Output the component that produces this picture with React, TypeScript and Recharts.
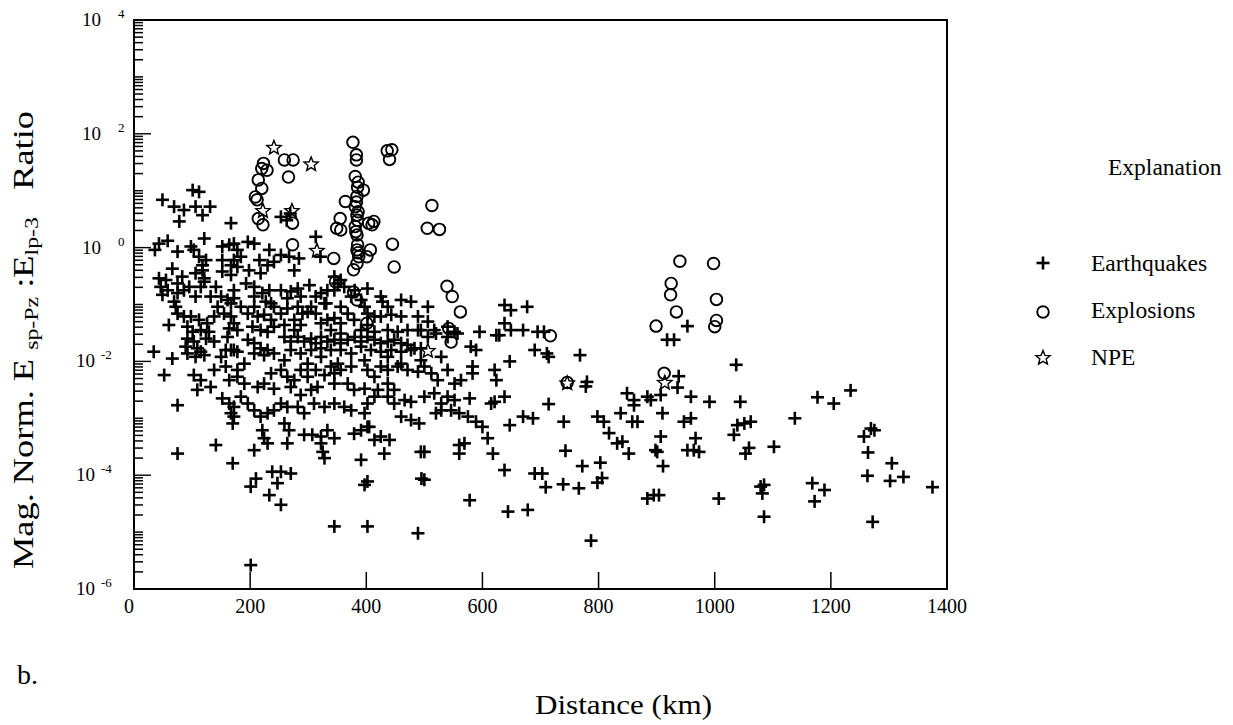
import React from 'react';
import { ScatterChart, Scatter, XAxis, YAxis, ReferenceArea } from 'recharts';

// Distance (km) and log10 of the normalized energy ratio
const earthquakes: [number, number][] = [
  [101,1.01],[112,0.98],[49,0.84],[69,0.72],[86,0.66],[106,0.72],[118,0.57],[131,0.72],[78,0.46],[167,0.43],
  [253,0.54],[269,0.60],[263,0.48],[313,0.19],[321,-0.16],
  [43,0.07],[58,0.12],[36,-0.04],[75,-0.07],[98,0.02],[103,-0.04],[121,0.16],[152,0.02],[164,0.05],[172,0.07],
  [178,-0.04],[196,0.10],[207,0.07],[233,-0.04],[253,-0.13],[267,-0.16],[284,-0.19],
  [112,-0.16],[124,-0.22],[118,-0.31],[66,-0.37],[152,-0.22],[172,-0.22],[184,-0.16],[167,-0.31],[178,-0.34],
  [152,-0.42],[167,-0.48],[216,-0.22],[230,-0.31],[241,-0.25],[198,-0.40],[218,-0.45],[106,-0.45],[118,-0.40],
  [276,-0.40],[43,-0.54],[55,-0.57],[83,-0.51],[121,-0.54],
  [46,-0.69],[58,-0.75],[49,-0.83],[75,-0.63],[75,-0.80],[86,-0.75],[95,-0.69],[106,-0.86],[115,-0.69],[121,-0.60],
  [141,-0.69],[150,-0.86],[161,-0.92],[172,-0.89],[167,-0.98],[193,-0.63],[207,-0.69],[221,-0.80],[233,-0.75],
  [253,-0.75],[270,-0.77],[282,-0.72],[264,-0.89],[302,-0.66],[313,-0.86],[331,-0.98],[227,-0.95],[236,-0.98],
  [345,-0.51],[356,-0.57],[351,-0.63],[362,-0.69],[380,-0.75],[402,-0.72],[374,-0.86],[391,-0.92],[425,-0.86],
  [428,-0.95],[477,-0.95],[69,-0.95],[72,-1.04],
  [345,-0.75],[322,-0.80],[305,-1.04],[356,-1.04],[397,-1.04],[437,-1.04],[460,-0.92],[489,-1.21],[506,-1.04],
  [494,-1.45],[356,-1.33],[322,-1.33],[276,-1.27],[241,-1.04],[207,-1.04],[184,-1.04],[144,-1.04],[132,-0.86],
  [172,-0.75],[207,-0.86],[287,-0.86],[333,-0.75],
  [75,-1.16],[86,-1.21],[98,-1.21],[112,-1.27],[126,-1.33],[138,-1.21],[60,-1.36],[92,-1.39],[101,-1.48],[115,-1.45],
  [129,-1.48],[155,-1.16],[167,-1.21],[172,-1.33],[164,-1.42],[178,-1.45],[196,-1.16],[213,-1.21],[224,-1.18],
  [236,-1.27],[204,-1.39],[218,-1.45],[230,-1.48],[241,-1.39],[253,-1.16],[264,-1.07],[282,-1.04],[290,-1.16],
  [299,-1.13],[259,-1.36],[276,-1.45],[287,-1.36],[328,-0.98],[313,-1.16],[333,-1.27],[345,-1.24],[368,-1.16],
  [379,-1.27],[402,-1.16],[414,-1.21],[425,-1.21],[443,-1.18],[460,-1.21],[339,-1.45],[356,-1.51],[391,-1.45],
  [402,-1.36],[414,-1.48],[437,-1.45],[454,-1.48],[471,-1.45],[489,-1.45],[506,-1.30],[517,-1.45],[540,-1.39],
  [552,-1.48],[595,-1.48],[624,-1.54],
  [92,-1.60],[103,-1.65],[89,-1.74],[109,-1.77],[124,-1.60],[138,-1.65],[161,-1.57],[172,-1.80],[34,-1.83],[66,-1.95],
  [92,-1.86],[106,-1.92],[115,-1.83],[121,-1.89],[158,-1.80],[167,-1.80],[178,-1.83],[196,-1.62],[207,-1.68],
  [218,-1.77],[230,-1.80],[207,-1.86],[224,-1.89],[241,-1.86],
  [259,-1.57],[270,-1.65],[282,-1.57],[293,-1.65],[305,-1.60],[313,-1.68],[322,-1.57],[333,-1.65],[345,-1.62],
  [356,-1.68],[368,-1.62],[380,-1.57],[391,-1.65],[402,-1.57],[414,-1.62],[425,-1.68],[437,-1.65],[448,-1.62],
  [460,-1.68],[471,-1.71],[483,-1.77],
  [270,-1.80],[287,-1.86],[305,-1.80],[322,-1.77],[339,-1.80],[356,-1.80],[374,-1.86],[391,-1.74],[408,-1.80],
  [425,-1.83],[443,-1.80],[460,-1.83],[477,-1.80],[494,-1.77],
  [190,-2.04],[178,-2.15],[150,-1.92],[259,-1.98],[299,-2.04],[322,-1.92],[351,-2.04],[397,-1.98],[437,-1.92],
  [460,-2.04],[494,-1.98],[529,-1.92],
  [506,-1.57],[520,-1.51],[540,-1.57],[557,-1.51],[580,-1.74],[589,-1.80],[629,-1.54],[649,-1.45],[670,-1.45],
  [638,-1.33],[638,-1.01],[649,-1.10],[677,-1.04],[690,-1.80],[647,-2.00],[695,-1.48],
  [52,-2.24],[103,-2.24],[115,-2.33],[109,-2.50],[138,-2.15],[158,-2.09],[164,-2.33],[132,-2.45],[178,-2.27],[190,-2.39],
  [236,-2.21],[253,-2.15],[264,-2.27],[276,-2.33],[287,-2.15],[299,-2.27],[313,-2.15],[328,-2.24],[339,-2.09],
  [345,-2.21],[356,-2.15],[374,-2.09],[402,-2.15],[414,-2.27],[425,-2.09],[437,-2.15],[454,-2.09],[471,-2.15],
  [489,-2.18],[500,-2.09],[512,-2.21],[523,-2.33],[540,-2.15],[552,-2.39],[563,-2.33],[583,-2.09],[583,-2.21],
  [621,-2.15],[624,-2.33],[213,-2.45],[224,-2.39],[241,-2.48],[270,-2.45],[287,-2.59],[305,-2.50],[316,-2.45],
  [345,-2.39],[368,-2.39],[379,-2.50],[397,-2.48],[420,-2.50],[437,-2.39],[448,-2.50],
  [75,-2.77],[152,-2.65],[164,-2.74],[172,-2.80],[184,-2.62],[196,-2.74],[167,-2.91],[172,-2.97],[170,-3.09],
  [207,-2.86],[218,-2.97],[230,-2.91],[241,-2.86],[253,-2.74],[264,-2.80],[282,-2.80],[293,-2.91],[310,-2.74],
  [328,-2.80],[345,-2.74],[362,-2.80],[374,-2.86],[402,-2.74],[414,-2.62],[437,-2.62],[448,-2.74],[466,-2.68],
  [477,-2.71],[500,-2.62],[517,-2.56],[529,-2.74],[540,-2.62],[552,-2.68],[578,-2.65],[615,-2.74],[621,-2.71],
  [638,-2.62],[460,-2.97],[477,-3.03],[491,-3.09],[397,-2.91],[520,-2.91],[529,-2.86],[546,-2.86],[560,-2.91],
  [575,-2.97],[589,-3.06],[600,-3.15],
  [221,-3.21],[224,-3.35],[230,-3.44],[259,-3.09],[267,-3.21],[264,-3.44],[293,-3.29],[307,-3.29],[322,-3.32],
  [333,-3.21],[345,-3.35],[322,-3.44],[325,-3.59],[328,-3.70],[379,-3.27],[391,-3.21],[402,-3.15],[414,-3.38],
  [425,-3.32],[440,-3.38],[431,-3.62],[405,-3.15],[391,-3.73],[141,-3.47],[75,-3.62],[170,-3.79],[207,-3.56],
  [494,-3.59],[500,-3.59],[560,-3.47],[569,-3.44],[560,-3.62],[609,-3.35],[618,-3.62],[638,-3.91],[690,-3.97],
  [647,-3.12],[670,-2.97],[687,-3.00],
  [238,-3.94],[253,-3.94],[270,-3.97],[210,-4.06],[201,-4.20],[247,-4.14],[233,-4.35],[253,-4.52],[402,-4.11],
  [397,-4.17],[500,-4.08],[495,-4.06],[578,-4.44],[644,-4.64],[678,-4.61],[345,-4.90],[402,-4.90],[489,-5.02],
  [201,-5.58],
  [706,-1.48],[711,-1.86],[714,-1.92],[768,-1.89],[714,-2.75],[780,-2.36],[778,-2.44],[740,-3.06],[743,-3.57],
  [798,-2.97],[809,-3.06],[818,-3.26],[838,-2.91],[841,-3.41],[852,-3.62],[832,-3.44],[849,-2.56],[861,-2.68],
  [861,-2.77],[858,-3.06],[867,-3.06],[884,-2.62],[890,-2.68],[907,-2.59],[910,-2.91],[907,-3.32],[898,-3.56],
  [901,-3.59],[911,-3.84],[884,-4.41],[895,-4.35],[904,-4.35],[930,-1.62],[918,-1.62],[953,-1.38],[938,-2.26],
  [936,-2.46],[959,-2.62],[947,-3.06],[959,-3.00],[967,-3.35],[953,-3.56],[973,-3.59],[964,-3.56],[991,-2.71],
  [1007,-4.41],[1037,-2.06],[1044,-2.71],[1039,-3.12],[1051,-3.09],[1062,-3.06],[1033,-3.29],[1059,-3.52],
  [1053,-3.62],[1102,-3.50],[1079,-4.20],[1085,-4.17],[1082,-4.32],[1085,-4.73],[1138,-3.00],[1177,-2.63],
  [1205,-2.74],[1234,-2.51],[1168,-4.14],[1189,-4.26],[1172,-4.46],[1257,-3.32],[1269,-3.18],[1275,-3.21],
  [1264,-3.60],[1263,-4.01],[1272,-4.82],[1305,-3.79],[1302,-4.10],[1325,-4.03],[1375,-4.21],[787,-5.15],
  [772,-3.84],[803,-3.78],[806,-4.05],[798,-4.13],[739,-4.16],[766,-4.23],[709,-4.21],[703,-3.97],
];

const explosions: [number, number][] = [
  [377,1.85],[383,1.63],[383,1.54],[436,1.70],[444,1.72],[440,1.55],[223,1.48],[229,1.36],[220,1.39],[259,1.54],
  [274,1.54],[266,1.24],[214,1.19],[220,1.04],[209,0.89],[212,0.84],[214,0.51],[222,0.40],[273,0.43],[273,0.05],
  [381,1.25],[385,1.06],[384,0.90],[395,1.01],[386,1.15],[364,0.81],[381,0.72],[383,0.80],[386,0.63],[384,0.57],
  [385,0.48],[381,0.37],[382,0.28],[355,0.51],[349,0.34],[356,0.31],[404,0.43],[413,0.46],[410,0.40],[384,0.22],
  [385,0.05],[384,-0.04],[386,-0.09],[387,-0.16],[384,-0.28],[407,-0.04],[401,-0.16],[378,-0.39],[344,-0.19],
  [347,-0.60],[445,0.06],[448,-0.34],[513,0.74],[505,0.34],[526,0.32],[539,-0.68],[548,-0.86],[562,-1.13],
  [542,-1.42],[546,-1.66],[378,-0.78],[384,-0.92],[401,-1.33],[717,-1.55],[746,-2.37],[940,-0.24],[998,-0.28],
  [925,-0.63],[924,-0.83],[934,-1.13],[899,-1.38],[1003,-0.91],[1003,-1.28],[1000,-1.39],[913,-2.21],
];

const npe: [number, number][] = [
  [241,1.77],[305,1.48],[222,0.66],[272,0.66],[315,-0.04],[506,-1.80],[746,-2.37],[914,-2.36],
];

const xTickValues = [0, 200, 400, 600, 800, 1000, 1200, 1400];
const yLabelExponents = [-6, -4, -2, 0, 2, 4];
const legendLabels = ['Earthquakes', 'Explosions', 'NPE'];

const toPoints = (arr: [number, number][]) => arr.map(([x, y]) => ({ x, y }));

// minor log-axis tick positions (integer multiples inside each decade) - axis furniture, not data
const yMinorTicks: { x: number; y: number }[] = [];
for (let d = -6; d < 4; d++) {
  for (let k = 1; k <= 9; k++) {
    if (k === 1 && yLabelExponents.includes(d)) continue;
    yMinorTicks.push({ x: 0, y: d + Math.log10(k) });
  }
}

const FONT = '"Liberation Serif", "Times New Roman", serif';
const PLOT_LEFT = 134;
const PLOT_BOTTOM = 589;

const Cross = (p: any) => {
  const { cx, cy } = p;
  return (
    <g>
      <line x1={cx - 6.5} x2={cx + 6.5} y1={cy} y2={cy} stroke="#000" strokeWidth={2.6} />
      <line x1={cx} x2={cx} y1={cy - 6.5} y2={cy + 6.5} stroke="#000" strokeWidth={2.6} />
    </g>
  );
};

const Ring = (p: any) => <circle cx={p.cx} cy={p.cy} r={5.8} fill="none" stroke="#000" strokeWidth={1.9} />;

const starPath = (cx: number, cy: number, ro: number, ri: number) => {
  let d = '';
  for (let i = 0; i < 10; i++) {
    const r = i % 2 === 0 ? ro : ri;
    const a = -Math.PI / 2 + (i * Math.PI) / 5;
    d += (i === 0 ? 'M' : 'L') + (cx + r * Math.cos(a)).toFixed(2) + ',' + (cy + r * Math.sin(a)).toFixed(2);
  }
  return d + 'Z';
};

const Star = (p: any) => <path d={starPath(p.cx, p.cy + 1, 7.5, 3.3)} fill="none" stroke="#000" strokeWidth={1.4} />;

const MinorTick = (p: any) => <line x1={p.cx} x2={p.cx + 9} y1={p.cy} y2={p.cy} stroke="#000" strokeWidth={1.5} />;

const XTick = (props: any) => {
  const { x, payload } = props;
  const v = payload.value;
  const inner = v > 0 && v < 1400;
  const y = PLOT_BOTTOM;
  return (
    <g>
      {inner && <line x1={x} x2={x} y1={y} y2={y - 17} stroke="#000" strokeWidth={1.5} />}
      <text x={v === 0 ? x - 5 : x} y={y + 24} textAnchor="middle" fontFamily={FONT} fontSize={20} fill="#000">
        {v}
      </text>
    </g>
  );
};

const YTick = (props: any) => {
  const { y, payload } = props;
  const x = PLOT_LEFT;
  const r = Math.round(payload.value as number);
  return (
    <g>
      <line x1={x} x2={x + 17} y1={y} y2={y} stroke="#000" strokeWidth={1.4} />
      <text x={r < 0 ? x - 39 : x - 33} y={y + 6} textAnchor="end" fontFamily={FONT} fontSize={19} fill="#000">
        10
      </text>
      <text x={r < 0 ? x - 33 : x - 16} y={y - 2} textAnchor="start" fontFamily={FONT} fontSize={13} fill="#000">
        {r < 0 ? `-${Math.abs(r)}` : `${r}`}
      </text>
    </g>
  );
};

const Annotations = () => (
  <svg width={1233} height={725} style={{ position: 'absolute', left: 0, top: 0, pointerEvents: 'none' }}>
    <text x={1108} y={175} fontFamily={FONT} fontSize={23.5} fill="#000">Explanation</text>
    <Cross cx={1043} cy={263} />
    <text x={1091} y={271} fontFamily={FONT} fontSize={23.5} fill="#000">{legendLabels[0]}</text>
    <Ring cx={1043} cy={312} />
    <text x={1091} y={318} fontFamily={FONT} fontSize={23.5} fill="#000">{legendLabels[1]}</text>
    <Star cx={1043} cy={357} />
    <text x={1091} y={365} fontFamily={FONT} fontSize={23.5} fill="#000">{legendLabels[2]}</text>
    <text x={535} y={714} fontFamily={FONT} fontSize={27} fill="#000" textLength={177} lengthAdjust="spacingAndGlyphs">
      Distance (km)
    </text>
    <text x={17} y={684} fontFamily={FONT} fontSize={28} fill="#000">
      b.
    </text>
    <text
      transform="rotate(-90)"
      x={-340}
      y={33}
      textAnchor="middle"
      fontFamily={FONT}
      fontSize={29}
      fill="#000"
      style={{ whiteSpace: 'pre' }}
      textLength={458}
      lengthAdjust="spacingAndGlyphs"
    >
      {'Mag. Norm. E '}
      <tspan fontSize={19} dy={5}>{'sp-Pz'}</tspan>
      <tspan dy={-5}>{' :E'}</tspan>
      <tspan fontSize={19} dy={5}>{'lp-3'}</tspan>
      <tspan dy={-5}>{'   Ratio'}</tspan>
    </text>
  </svg>
);

export default function App() {
  return (
    <div style={{ marginLeft: -8, marginTop: -8, width: 1233, height: 725, position: 'relative' }}>
      <ScatterChart width={1233} height={725} margin={{ top: 20, right: 286, bottom: 106, left: 74 }}>
        <XAxis
          xAxisId="x"
          type="number"
          dataKey="x"
          domain={[0, 1400]}
          ticks={xTickValues}
          interval={0}
          height={30}
          axisLine={false}
          tickLine={false}
          tick={XTick}
          allowDataOverflow
        />
        <YAxis
          yAxisId="y"
          type="number"
          dataKey="y"
          domain={[-6, 4]}
          ticks={yLabelExponents}
          interval={0}
          width={60}
          axisLine={false}
          tickLine={false}
          tick={YTick}
          allowDataOverflow
        />
        <ReferenceArea xAxisId="x" yAxisId="y" x1={0} x2={1400} y1={-6} y2={4} fill="none" stroke="#000" strokeWidth={2} />
        <Scatter name="minor ticks" data={yMinorTicks} xAxisId="x" yAxisId="y" shape={MinorTick} isAnimationActive={false} />
        <Scatter name="Earthquakes" data={toPoints(earthquakes)} xAxisId="x" yAxisId="y" shape={Cross} isAnimationActive={false} />
        <Scatter name="Explosions" data={toPoints(explosions)} xAxisId="x" yAxisId="y" shape={Ring} isAnimationActive={false} />
        <Scatter name="NPE" data={toPoints(npe)} xAxisId="x" yAxisId="y" shape={Star} isAnimationActive={false} />
      </ScatterChart>
      <Annotations />
    </div>
  );
}
